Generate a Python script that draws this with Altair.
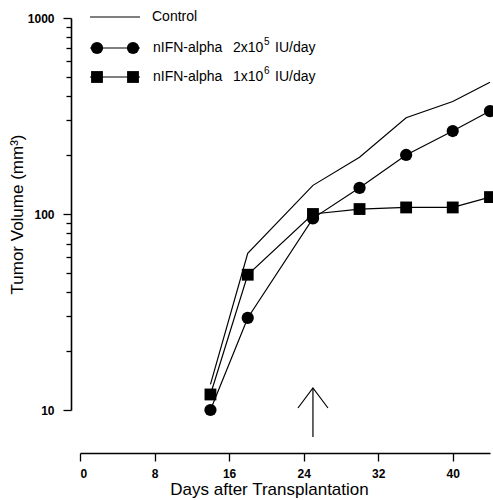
import altair as alt
import pandas as pd

days = [14, 18, 25, 30, 35, 40, 44]
control = [13.5, 63, 140, 195, 310, 375, 470]
ifn_low = [10, 29.5, 95, 136, 200, 265, 335]
ifn_high = [12, 49, 100, 106, 108, 108, 122]
series_names = ["Control", "nIFN-alpha  2x10\u2075 IU/day", "nIFN-alpha  1x10\u2076 IU/day"]
legend_drug = ["", "nIFN-alpha", "nIFN-alpha"]
legend_base = ["", "2x10", "1x10"]
legend_exp = ["", "5", "6"]
legend_unit = ["", "IU/day", "IU/day"]
treatment_day = [25]

rows = []
for name, vals in zip(series_names, [control, ifn_low, ifn_high]):
    for d, v in zip(days, vals):
        rows.append({"day": d, "volume": v, "series": name})
df = pd.DataFrame(rows)

FONT = "Liberation Sans"
W, H = 410, 392

xscale = alt.Scale(domain=[0, 44], nice=False, zero=False)
yscale = alt.Scale(type="log", domain=[10, 1000], nice=False)

y_ticks = [10 * i for i in range(1, 10)] + [100 * i for i in range(1, 11)]

xaxis = alt.Axis(
    values=list(range(0, 45, 4)),
    labelExpr="datum.value % 8 == 0 ? datum.label : ''",
    grid=False, offset=43, domainColor="black", domainWidth=1.6,
    tickColor="black", tickWidth=1.3,
    tickSize={"condition": {"test": "datum.value % 8 == 0", "value": 8}, "value": 5},
    labelFont=FONT, labelFontSize=12, labelColor="black", labelPadding=7,
    labelFontWeight="bold",
    title="Days after Transplantation", titleFont=FONT, titleFontSize=17,
    titleFontWeight="normal", titleColor="black",
    titleX=189, titleY=41, titleAnchor="middle", titleAlign="center", titleBaseline="alphabetic",
)
yaxis = alt.Axis(
    values=y_ticks, format="d",
    labelExpr="indexof([10,100,1000], datum.value) >= 0 ? datum.label : ''",
    grid=False, offset=9, domainColor="black", domainWidth=1.6,
    tickColor="black", tickWidth=1.3,
    tickSize={"condition": {"test": "indexof([10,100,1000], datum.value) >= 0", "value": 8}, "value": 5},
    labelFont=FONT, labelFontSize=12, labelColor="black", labelPadding=9,
    labelFontWeight="bold",
    title="Tumor Volume (mm\u00b3)", titleFont=FONT, titleFontSize=17,
    titleFontWeight="normal", titleColor="black",
    titleX=-49, titleY=196, titleAngle=-90, titleAlign="center", titleBaseline="alphabetic",
)

base = alt.Chart(df)
x = alt.X("day:Q", scale=xscale, axis=xaxis)
y = alt.Y("volume:Q", scale=yscale, axis=yaxis)

lines = base.mark_line(color="black", strokeWidth=1.2).encode(
    x=x, y=y, detail="series:N"
)
circles = base.transform_filter(alt.datum.series == series_names[1]).mark_point(
    shape="circle", filled=True, color="black", size=150, opacity=1
).encode(x=x, y=y)
squares = base.transform_filter(alt.datum.series == series_names[2]).mark_point(
    shape="square", filled=True, color="black", size=140, opacity=1
).encode(x=x, y=y)

# arrow marking start of treatment
arrow_df = pd.DataFrame({"day": treatment_day})
arrow_shaft = alt.Chart(arrow_df).mark_rule(color="black", strokeWidth=1.2).encode(
    x=alt.X("day:Q", scale=xscale), y=alt.value(370), y2=alt.value(419)
)
arrow_head = alt.Chart(arrow_df).mark_point(
    shape="M-0.75,1L0,0L0.75,1", filled=False, color="black", size=1600,
    strokeWidth=1.2, opacity=1
).encode(x=alt.X("day:Q", scale=xscale), y=alt.value(370))

# manual legend
leg_df = pd.DataFrame({
    "series": series_names, "drug": legend_drug, "base": legend_base,
    "exp": legend_exp, "unit": legend_unit,
})


def txt(d, field, xx, yy, size=14):
    return d.mark_text(align="left", baseline="middle", font=FONT, fontSize=size,
                       color="black").encode(x=alt.value(xx), y=alt.value(yy), text=f"{field}:N")


def leg_row(i, shape, size):
    yy = [-1, 30, 59][i]
    d = alt.Chart(leg_df).transform_filter(alt.datum.series == series_names[i])
    layers = [
        d.mark_rule(color="black", strokeWidth=1.2).encode(
            x=alt.value(10), x2=alt.value(60), y=alt.value(yy)),
    ]
    if shape:
        for xx in (17, 53):
            layers.append(d.mark_point(shape=shape, filled=True, color="black",
                                       size=size, opacity=1).encode(
                x=alt.value(xx), y=alt.value(yy)))
        layers += [
            txt(d, "drug", 73, yy),
            txt(d, "base", 153, yy),
            txt(d, "exp", 184, yy - 6, 10),
            txt(d, "unit", 195, yy),
        ]
    else:
        layers.append(txt(d, "series", 72, yy))
    return layers


legend_layers = leg_row(0, None, 0) + leg_row(1, "circle", 150) + leg_row(2, "square", 140)

chart = alt.layer(
    lines, circles, squares, arrow_shaft, arrow_head, *legend_layers
).properties(
    width=W, height=H,
    background="white",
    autosize=alt.AutoSizeParams(type="none"),
    padding={"left": 80, "top": 18, "right": 3, "bottom": 90},
).configure_view(stroke="transparent", strokeWidth=0, clip=False)

chart.save("out.html", embed_options={"renderer": "svg", "actions": False})
